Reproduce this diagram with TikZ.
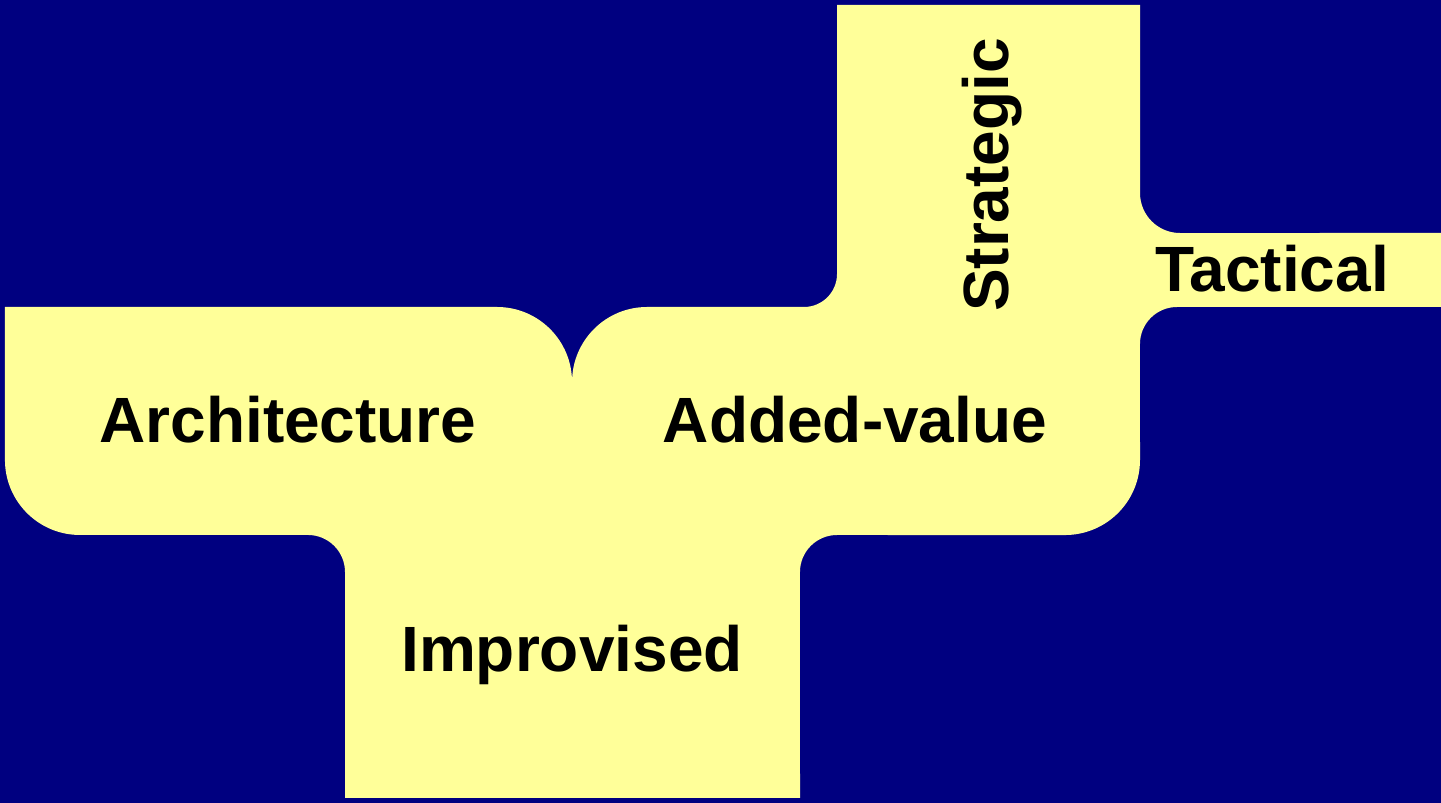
\documentclass[tikz,border=0pt]{standalone}
\usepackage{fontspec}
\setmainfont{Liberation Sans}
\usepackage{tikz}
\definecolor{navyback}{HTML}{000080}
\definecolor{paleyellow}{HTML}{FFFF99}
\tikzset{
  word node/.style={font=\bfseries\fontsize{18.2}{22}\selectfont,anchor=base,inner sep=0pt,text=black},
  panel/.style={fill=paleyellow,draw=none}
}
\begin{document}
\begin{tikzpicture}[x=0.01cm,y=0.01cm]
  \fill[navyback] (0,0) rectangle (1441,803);
  \useasboundingbox (0,0) rectangle (1441,803);
  % the yellow outline
  \path[panel] (5,496) -- (497,496)
    arc[start angle=90,end angle=0,radius=0.75cm]
    arc[start angle=180,end angle=90,radius=0.75cm]
    -- (804,496) arc[start angle=270,end angle=360,radius=0.33cm]
    -- (837,798) -- (1140,798) -- (1140,610)
    arc[start angle=180,end angle=270,radius=0.40cm]
    -- (1441,570) -- (1441,496) -- (1177,496)
    arc[start angle=90,end angle=180,radius=0.37cm]
    -- (1140,343) arc[start angle=0,end angle=-90,radius=0.75cm]
    -- (837,268) arc[start angle=90,end angle=180,radius=0.37cm]
    -- (800,5) -- (345,5) -- (345,231)
    arc[start angle=0,end angle=90,radius=0.37cm]
    -- (80,268) arc[start angle=270,end angle=180,radius=0.75cm]
    -- cycle;
  \node[word node] (arch) at (288,360) {Architecture};
  \node[word node] (added) at (855,360) {Added-value};
  \node[word node] (impro) at (572,131) {Improvised};
  \node[word node] (tact) at (1272,511) {Tactical};
  \node[word node,rotate=90] (strat) at (1008,628) {Strategic};
\end{tikzpicture}
\end{document}
